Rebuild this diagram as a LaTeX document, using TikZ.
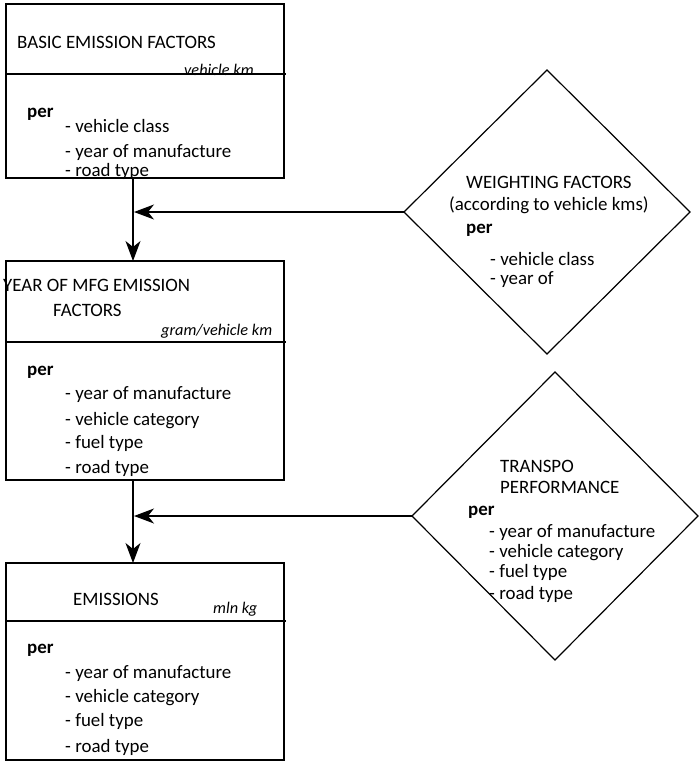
\documentclass[tikz,border=0pt]{standalone}
\usepackage{fontspec}
\setmainfont{Carlito}
\usetikzlibrary{shapes.geometric,arrows.meta}
\begin{document}
\begin{tikzpicture}[x=1pt,y=-1pt,
  boxshape/.style={draw,line width=1.2pt,inner sep=0,outer sep=0},
  dshape/.style={draw,diamond,line width=1.2pt,inner sep=0,outer sep=0},
  lbl/.style={anchor=base west,inner sep=0,font=\fontsize{18.9}{22}\selectfont},
  unit/.style={anchor=base west,inner sep=0,font=\fontsize{16.3}{19}\selectfont\itshape},
  perlbl/.style={lbl,font=\fontsize{18.9}{22}\selectfont\bfseries},
  arr/.style={line width=1.2pt,-{Stealth[length=20pt,width=15pt,inset=6pt]}},
  divline/.style={line width=1.2pt}]
\useasboundingbox (0,0) rectangle (700,761);
% boxes
\node[boxshape,minimum width=278pt,minimum height=174pt] (b1) at (145,91) {};
\node[boxshape,minimum width=278pt,minimum height=219pt] (b2) at (145,370.5) {};
\node[boxshape,minimum width=278pt,minimum height=197pt] (b3) at (145,661.5) {};
% dividers
\coordinate (d1l) at (5,74); \coordinate (d1r) at (286,74);
\coordinate (d2l) at (6,342); \coordinate (d2r) at (286,342);
\coordinate (d3l) at (6,621); \coordinate (d3r) at (286,621);
\draw[divline] (d1l) -- (d1r);
\draw[divline] (d2l) -- (d2r);
\draw[divline] (d3l) -- (d3r);
% diamonds
\node[dshape,minimum width=286pt,minimum height=284pt] (w) at (547,212) {};
\node[dshape,minimum width=286pt,minimum height=288pt] (t) at (555,516) {};
% box 1 text
\node[lbl] (b1t) at (17,48) {BASIC EMISSION FACTORS};
\node[unit] (b1u) at (184,75) {vehicle km};
\node[perlbl] (b1p) at (27,117) {per};
\node[lbl] (b1a) at (65,132) {- vehicle class};
\node[lbl] (b1b) at (65,157) {- year of manufacture};
\node[lbl] (b1c) at (65,176) {- road type};
% box 2 text
\node[lbl] (b2t) at (3,291) {YEAR OF MFG EMISSION};
\node[lbl] (b2t2) at (53,316) {FACTORS};
\node[unit] (b2u) at (161,335) {gram/vehicle km};
\node[perlbl] (b2p) at (27,375) {per};
\node[lbl] (b2a) at (65,399) {- year of manufacture};
\node[lbl] (b2b) at (65,425) {- vehicle category};
\node[lbl] (b2c) at (65,448) {- fuel type};
\node[lbl] (b2d) at (65,473) {- road type};
% box 3 text
\node[lbl] (b3t) at (73,605) {EMISSIONS};
\node[unit] (b3u) at (213,613) {mln kg};
\node[perlbl] (b3p) at (27,653) {per};
\node[lbl] (b3a) at (65,678) {- year of manufacture};
\node[lbl] (b3b) at (65,702) {- vehicle category};
\node[lbl] (b3c) at (65,726) {- fuel type};
\node[lbl] (b3d) at (65,752) {- road type};
% diamond 1 text
\node[lbl] (wt) at (466,188) {WEIGHTING FACTORS};
\node[lbl] (wt2) at (449,210) {(according to vehicle kms)};
\node[perlbl] (wp) at (466,233) {per};
\node[lbl] (wa) at (490,265) {- vehicle class};
\node[lbl] (wb) at (490,284) {- year of};
% diamond 2 text
\node[lbl] (tt) at (500,472) {TRANSPO};
\node[lbl] (tt2) at (500,493) {PERFORMANCE};
\node[perlbl] (tp) at (468,515) {per};
\node[lbl] (ta) at (489,537) {- year of manufacture};
\node[lbl] (tb) at (489,557) {- vehicle category};
\node[lbl] (tc) at (489,577) {- fuel type};
\node[lbl] (td) at (489,599) {- road type};
% connectors
\draw[arr] ([xshift=-12pt]b1.south) -- ([xshift=-12pt]b2.north);
\draw[arr] ([xshift=-12pt]b2.south) -- ([xshift=-12pt]b3.north);
\coordinate (vx) at (134,0);
\draw[arr] (w.west) -- (w.west -| vx);
\draw[arr] (t.west) -- (t.west -| vx);
\end{tikzpicture}
\end{document}
